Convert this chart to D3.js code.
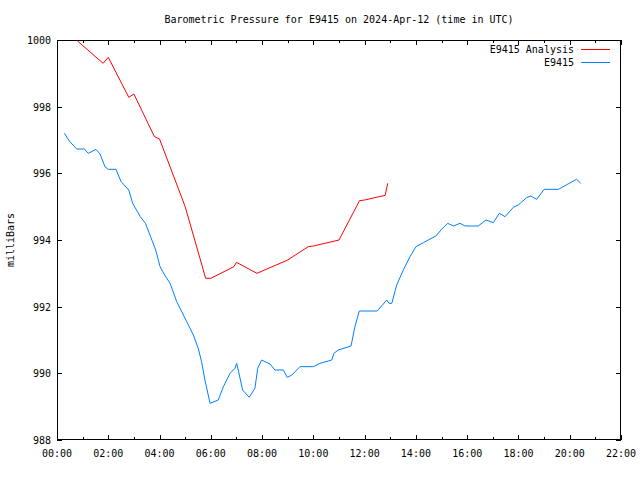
<!DOCTYPE html>
<html>
<head>
<meta charset="utf-8">
<script src="https://cdn.jsdelivr.net/npm/d3@7"></script>
<style>
  html, body { margin: 0; padding: 0; background: #fff; }
  svg { display: block; }
  text { font-family: "DejaVu Sans Mono", "Liberation Mono", monospace; font-size: 10px; fill: #000; }
</style>
</head>
<body>
<svg id="chart" width="640" height="480"></svg>
<script>
// ---- data ----
const titleText = "Barometric Pressure for E9415 on 2024-Apr-12 (time in UTC)";
const yAxisTitle = "milliBars";
const seriesNames = ["E9415 Analysis", "E9415"];
const xTickHours = [0, 2, 4, 6, 8, 10, 12, 14, 16, 18, 20, 22];
const xTickLabels = ["00:00","02:00","04:00","06:00","08:00","10:00","12:00","14:00","16:00","18:00","20:00","22:00"];
const xMinorHours = [1, 3, 5, 7, 9, 11, 13, 15, 17, 19, 21];
const yTickValues = [988, 990, 992, 994, 996, 998, 1000];

const analysisHours = [0.8, 1.8, 2.0, 2.8, 3.0, 3.8, 4.0, 5.0, 5.8, 6.0, 6.9, 7.0, 7.8, 9.0, 9.8, 10.0, 11.0, 11.8, 12.0, 12.8, 12.9];
const analysisValues = [999.97, 999.3, 999.48, 998.28, 998.38, 997.1, 997.03, 995.0, 992.85, 992.85, 993.2, 993.33, 993.0, 993.4, 993.8, 993.82, 994.0, 995.18, 995.2, 995.34, 995.7];

const obsHours = [0.29, 0.5, 0.77, 1.07, 1.22, 1.52, 1.68, 1.87, 2.0, 2.3, 2.5, 2.8, 2.95, 3.25, 3.45, 3.65, 3.85, 4.02, 4.2, 4.41,
  4.67, 5.06, 5.32, 5.51, 5.64, 5.77, 5.97, 6.29, 6.49, 6.75, 6.94, 7.01, 7.07, 7.24, 7.5, 7.72, 7.83, 7.98, 8.31, 8.5,
  8.83, 8.98, 9.16, 9.48, 10.0, 10.26, 10.72, 10.8, 10.97, 11.47, 11.62, 11.79, 12.49, 12.73, 12.86, 12.95, 13.06, 13.25, 13.51, 13.77,
  14.0, 14.29, 14.48, 14.78, 15.0, 15.24, 15.47, 15.72, 15.92, 16.43, 16.73, 17.02, 17.25, 17.48, 17.8, 17.99, 18.32, 18.48, 18.71, 19.0,
  19.56, 19.86, 20.27, 20.43];
const obsValues = [997.2, 996.95, 996.73, 996.73, 996.6, 996.72, 996.58, 996.2, 996.12, 996.12, 995.75, 995.5, 995.1, 994.7, 994.5, 994.1, 993.7, 993.2, 992.95, 992.7,
  992.15, 991.55, 991.15, 990.75, 990.35, 989.8, 989.1, 989.2, 989.6, 990.0, 990.15, 990.3, 990.1, 989.5, 989.28, 989.55, 990.15, 990.4, 990.28, 990.1,
  990.1, 989.88, 989.95, 990.2, 990.2, 990.3, 990.4, 990.6, 990.7, 990.82, 991.4, 991.87, 991.87, 992.08, 992.2, 992.1, 992.1, 992.65, 993.1, 993.5,
  993.8, 993.92, 994.0, 994.12, 994.32, 994.5, 994.42, 994.5, 994.42, 994.42, 994.6, 994.52, 994.8, 994.7, 994.98, 995.05, 995.27, 995.32, 995.22, 995.52,
  995.52, 995.65, 995.82, 995.7];

const seriesColors = ["#ff0000", "#0080ff"];

// ---- layout ----
const svg = d3.select("#chart");
const L = 57, R = 621, T = 40, B = 440;
const x = d3.scaleLinear().domain([0, 22]).range([L, R]);
const y = d3.scaleLinear().domain([988, 1000]).range([B, T]);
const majorLen = 5, minorLen = 3;

// title
svg.append("text").attr("x", (L + R) / 2).attr("y", 23)
  .attr("text-anchor", "middle").text(titleText);

// y-axis title
svg.append("text").attr("transform", "translate(14,240) rotate(-90)")
  .attr("text-anchor", "middle").text(yAxisTitle);

const axes = svg.append("g").attr("stroke", "#000").attr("stroke-width", 1).attr("shape-rendering", "crispEdges");

// x ticks bottom & top
xTickHours.forEach(h => {
  const xp = Math.round(x(h)) + 0.5;
  axes.append("line").attr("x1", xp).attr("x2", xp).attr("y1", B).attr("y2", B - majorLen);
  axes.append("line").attr("x1", xp).attr("x2", xp).attr("y1", T).attr("y2", T + majorLen);
});
xMinorHours.forEach(h => {
  const xp = Math.round(x(h)) + 0.5;
  axes.append("line").attr("x1", xp).attr("x2", xp).attr("y1", B).attr("y2", B - minorLen);
  axes.append("line").attr("x1", xp).attr("x2", xp).attr("y1", T).attr("y2", T + minorLen);
});
// y ticks left & right
yTickValues.forEach(v => {
  const yp = Math.round(y(v)) + 0.5;
  axes.append("line").attr("x1", L).attr("x2", L + majorLen).attr("y1", yp).attr("y2", yp);
  axes.append("line").attr("x1", R).attr("x2", R - majorLen).attr("y1", yp).attr("y2", yp);
});

// tick labels
xTickHours.forEach((h, i) => {
  svg.append("text").attr("x", x(h)).attr("y", 457).attr("text-anchor", "middle").text(xTickLabels[i]);
});
yTickValues.forEach(v => {
  svg.append("text").attr("x", 51).attr("y", y(v) + 4).attr("text-anchor", "end").text(String(v));
});

// lines
const line = d3.line().x(d => x(d[0])).y(d => y(d[1]));
const analysisData = analysisHours.map((h, i) => [h, analysisValues[i]]);
const obsData = obsHours.map((h, i) => [h, obsValues[i]]);

svg.append("path").datum(analysisData).attr("d", line)
  .attr("fill", "none").attr("stroke", seriesColors[0]).attr("stroke-width", 1);
svg.append("path").datum(obsData).attr("d", line)
  .attr("fill", "none").attr("stroke", seriesColors[1]).attr("stroke-width", 1);

// legend
const legendRows = [49, 62];
seriesNames.forEach((name, i) => {
  svg.append("text").attr("x", 574).attr("y", legendRows[i] + 4).attr("text-anchor", "end").text(name);
  svg.append("line").attr("x1", 581).attr("x2", 610)
    .attr("y1", legendRows[i] + 0.5).attr("y2", legendRows[i] + 0.5)
    .attr("stroke", seriesColors[i]).attr("stroke-width", 1).attr("shape-rendering", "crispEdges");
});

// border
axes.append("rect").attr("x", L + 0.5).attr("y", T + 0.5).attr("width", R - L - 1).attr("height", B - T - 1)
  .attr("fill", "none");
</script>
</body>
</html>
